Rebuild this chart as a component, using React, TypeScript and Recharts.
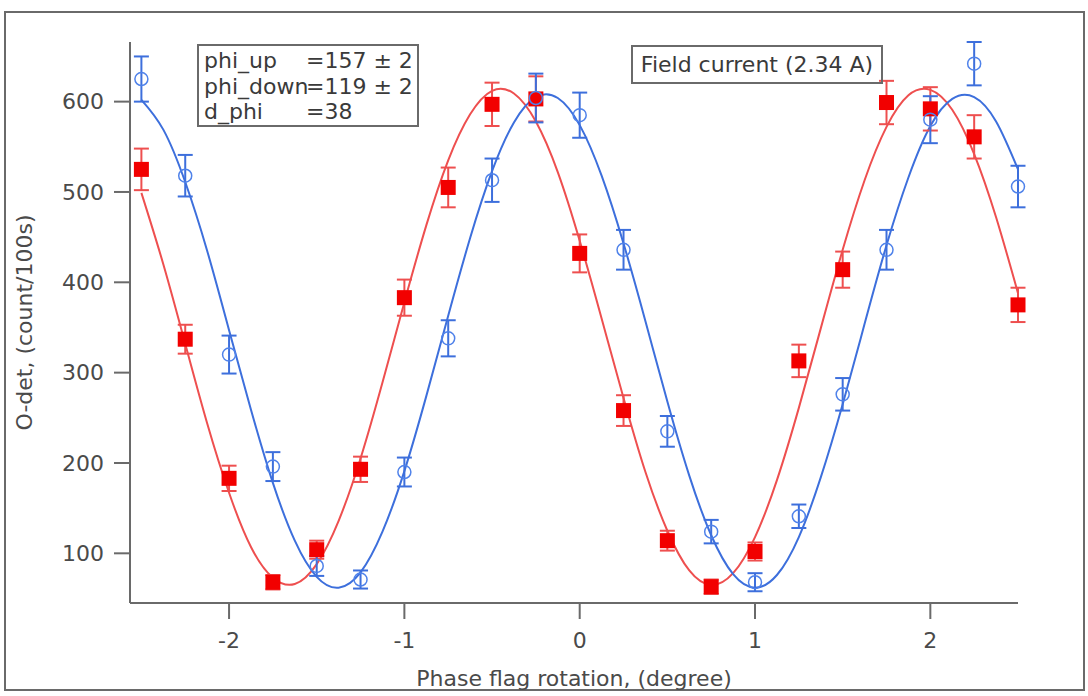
import { ComposedChart, ErrorBar, Label, Line, Scatter, XAxis, YAxis } from "recharts";

// measured phase flag settings (degree)
const phase = [
  -2.5, -2.25, -2, -1.75, -1.5, -1.25, -1, -0.75, -0.5, -0.25, 0, 0.25, 0.5, 0.75, 1, 1.25, 1.5,
  1.75, 2, 2.25, 2.5,
];

// spin down: red filled squares
const downCounts = [
  525, 337, 183, 68, 104, 193, 383, 505, 597, 603, 432, 258, 114, 63, 102, 313, 414, 599, 592, 561,
  375,
];
const downErr = [23, 16, 14, 8, 10, 14, 20, 22, 24, 25, 21, 17, 11, 8, 10, 18, 20, 24, 24, 24, 19];

// spin up: blue open circles
const upCounts = [
  625, 518, 320, 196, 86, 71, 190, 338, 513, 604, 585, 436, 235, 124, 68, 141, 276, 436, 580, 642,
  506,
];
const upErr = [25, 23, 21, 16, 11, 10, 16, 20, 24, 27, 25, 22, 17, 13, 10, 13, 18, 22, 26, 24, 23];

// fitted curves
const fitPhase = [
  -2.5, -2.375, -2.25, -2.125, -2, -1.875, -1.75, -1.625, -1.5, -1.375, -1.25, -1.125, -1, -0.875,
  -0.75, -0.625, -0.5, -0.375, -0.25, -0.125, 0, 0.125, 0.25, 0.375, 0.5, 0.625, 0.75, 0.875, 1,
  1.125, 1.25, 1.375, 1.5, 1.625, 1.75, 1.875, 2, 2.125, 2.25, 2.375, 2.5,
];
const upFit = [
  602, 569, 511, 435, 347, 259, 178, 114, 74, 62, 79, 124, 191, 274, 363, 449, 523, 577, 605, 604,
  574, 518, 443, 357, 268, 186, 120, 77, 62, 76, 118, 184, 265, 354, 441, 516, 573, 603, 605, 578,
  525,
];
const downFit = [
  499, 420, 332, 244, 167, 107, 73, 66, 88, 136, 205, 289, 378, 463, 535, 586, 612, 609, 578, 522,
  446, 360, 272, 190, 125, 81, 65, 78, 118, 181, 261, 349, 436, 513, 572, 607, 613, 591, 542, 472,
  388,
];

const xTicks = [-2, -1, 0, 1, 2];
const yTicks = [100, 200, 300, 400, 500, 600];

const fitLines = [
  ["phi_up", "=157 ± 2"],
  ["phi_down", "=119 ± 2"],
  ["d_phi", "=38"],
];

const RED = "#f20000";
const BLUE = "#3d6fdc";
const AXIS = "#6a6a6a";
const FONT = "'DejaVu Sans', Verdana, sans-serif";

const downPoints = phase.map((x, i) => ({ x, y: downCounts[i], err: downErr[i] }));
const upPoints = phase.map((x, i) => ({ x, y: upCounts[i], err: upErr[i] }));
const upCurve = fitPhase.map((x, i) => ({ x, y: upFit[i] }));
const downCurve = fitPhase.map((x, i) => ({ x, y: downFit[i] }));

const tickStyle = { fill: "#4a4a4a", fontSize: 22, fontFamily: FONT };

function Square(props: any) {
  const { cx, cy } = props;
  return <rect x={cx - 7.5} y={cy - 7.5} width={15} height={15} fill={RED} />;
}

function OpenCircle(props: any) {
  const { cx, cy } = props;
  return <circle cx={cx} cy={cy} r={6.5} fill="none" stroke="#4f82ea" strokeWidth={1.5} />;
}

export default function App() {
  return (
    <div style={{ position: "absolute", left: 0, top: 0, width: 1088, height: 696, background: "#fff" }}>
      <div
        style={{
          position: "absolute",
          left: 4,
          top: 11,
          width: 1081,
          height: 680,
          border: `2px solid ${AXIS}`,
          boxSizing: "border-box",
        }}
      />
      <ComposedChart
        width={1088}
        height={696}
        margin={{ top: 42, right: 70, bottom: 0, left: 60 }}
        style={{ position: "absolute", left: 0, top: 0 }}
      >
        <XAxis
          dataKey="x"
          type="number"
          domain={[-2.565, 2.5]}
          ticks={xTicks}
          height={93}
          stroke={AXIS}
          strokeWidth={2}
          tickSize={16}
          tickMargin={13}
          tick={tickStyle}
        >
          <Label
            value="Phase flag rotation, (degree)"
            position="insideBottom"
            offset={10}
            style={{ fill: "#4a4a4a", fontSize: 22, fontFamily: FONT }}
          />
        </XAxis>
        <YAxis
          type="number"
          domain={[45, 666]}
          ticks={yTicks}
          width={70}
          stroke={AXIS}
          strokeWidth={2}
          tickSize={16}
          tickMargin={10}
          tick={tickStyle}
        >
          <Label
            value="O-det, (count/100s)"
            angle={-90}
            position="left"
            offset={36}
            style={{ fill: "#4a4a4a", fontSize: 22, fontFamily: FONT, textAnchor: "middle" }}
          />
        </YAxis>
        <Line
          data={downCurve}
          dataKey="y"
          type="natural"
          stroke="#ee4f4f"
          strokeWidth={2}
          dot={false}
          isAnimationActive={false}
        />
        <Line
          data={upCurve}
          dataKey="y"
          type="natural"
          stroke={BLUE}
          strokeWidth={2}
          dot={false}
          isAnimationActive={false}
        />
        <Scatter data={downPoints} dataKey="y" shape={<Square />} isAnimationActive={false}>
          <ErrorBar dataKey="err" direction="y" width={7.5} stroke="#ee4f4f" strokeWidth={2} />
        </Scatter>
        <Scatter data={upPoints} dataKey="y" shape={<OpenCircle />} isAnimationActive={false}>
          <ErrorBar dataKey="err" direction="y" width={7.5} stroke={BLUE} strokeWidth={2} />
        </Scatter>
      </ComposedChart>
      <div
        style={{
          position: "absolute",
          left: 197,
          top: 44,
          width: 222,
          height: 83,
          border: `2px solid ${AXIS}`,
          boxSizing: "border-box",
          fontFamily: FONT,
          fontSize: 22,
          color: "#3a3a3a",
          lineHeight: "25.5px",
          paddingTop: 2,
        }}
      >
        {fitLines.map(([name, val]) => (
          <div key={name} style={{ position: "relative", height: 25.5, whiteSpace: "nowrap" }}>
            <span style={{ position: "absolute", left: 5 }}>{name}</span>
            <span style={{ position: "absolute", left: 107 }}>{val}</span>
          </div>
        ))}
      </div>
      <div
        style={{
          position: "absolute",
          left: 631,
          top: 45,
          width: 252,
          height: 39,
          border: `2px solid ${AXIS}`,
          boxSizing: "border-box",
          fontFamily: FONT,
          fontSize: 22,
          color: "#3a3a3a",
          lineHeight: "35px",
          textAlign: "center",
          whiteSpace: "nowrap",
        }}
      >
        Field current (2.34 A)
      </div>
    </div>
  );
}
